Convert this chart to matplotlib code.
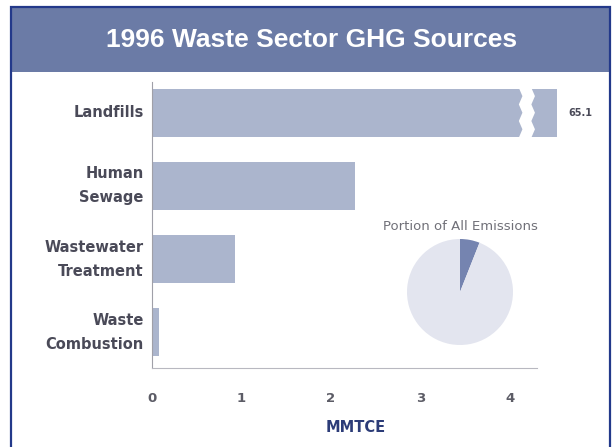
import matplotlib.pyplot as plt
from matplotlib.patches import Rectangle, Polygon

# Daten
Kategorien = ['Landfills', 'Human\nSewage', 'Wastewater\nTreatment', 'Waste\nCombustion']
Werte = [65.1, 2.27, 0.93, 0.08]
Anteil_Abfall = [6, 94]          # Anteil an allen Emissionen (%)
X_Ticks = [0, 1, 2, 3, 4]

BRUCH_BEI = 4.1      # wo der Landfills-Balken unterbrochen wird
STUMMEL = 0.43       # Rest des Balkens hinter dem Bruch

BALKEN_FARBE = '#abb5cd'
TEXT_GRAU = '#4a4a58'

fig = plt.figure(figsize=(6.13, 4.47), dpi=100)
W, H = 613, 447

def fx(px):
    return px / W

def fy(py):
    return 1 - py / H

# Rahmen und Titelband
fig.patches.append(Rectangle((fx(11), fy(72)), fx(599), 65 / H, transform=fig.transFigure,
                             facecolor='#6b7ba6', edgecolor='none', zorder=0))
fig.patches.append(Rectangle((fx(11), fy(460)), fx(599), 453 / H, transform=fig.transFigure,
                             facecolor='none', edgecolor='#23398a', linewidth=1.6, zorder=5))
fig.text(fx(312), fy(40), '1996 Waste Sector GHG Sources', color='white', fontsize=19,
         fontweight='bold', family='Liberation Sans', ha='center', va='center')

# Balkendiagramm
ax = fig.add_axes([fx(152), fy(368), fx(560 - 152), (368 - 82) / H])
y = list(range(len(Kategorien)))
Laengen = [min(w, BRUCH_BEI + STUMMEL) for w in Werte]
ax.barh(y, Laengen, height=0.66, color=BALKEN_FARBE, zorder=2)

# Bruch im Landfills-Balken
zz = []
for k in range(7):
    zz.append((BRUCH_BEI + (0.04 if k % 2 else 0.0), -0.34 + k * 0.68 / 6))
zz2 = [(px + 0.14, py) for px, py in reversed(zz)]
ax.add_patch(Polygon(zz + zz2, closed=True, facecolor='white', edgecolor='none', zorder=3))
ax.text(BRUCH_BEI + STUMMEL + 0.12, 0, f'{Werte[0]:.1f}', fontsize=7, fontweight='bold',
        color=TEXT_GRAU, va='center', ha='left')

ax.set_xlim(0, 4.56)
ax.set_ylim(3.49, -0.42)
ax.set_yticks(y)
ax.set_yticklabels(Kategorien, fontsize=10.5, fontweight='bold', color=TEXT_GRAU,
                   linespacing=1.75)
for lab in ax.get_yticklabels():
    lab.set_va('center')
ax.set_xticks(X_Ticks)
ax.set_xticklabels([str(t) for t in X_Ticks], fontsize=9.5, fontweight='bold', color='#5c5c66')
ax.tick_params(axis='both', length=0)
ax.tick_params(axis='x', pad=17)
ax.tick_params(axis='y', pad=6)
for s in ['top', 'right']:
    ax.spines[s].set_visible(False)
ax.spines['left'].set_color('#a0a0a8')
ax.spines['bottom'].set_color('#b8b8c0')
ax.spines['bottom'].set_bounds(0, 4.3)
ax.set_xlabel('MMTCE', fontsize=10.5, fontweight='bold', color='#2c3c78', labelpad=11)
ax.patch.set_alpha(0)

# Kreisdiagramm
fig.text(fx(460), fy(226), 'Portion of All Emissions', fontsize=9.5, color='#707078',
         ha='center', va='center')
ax_pie = fig.add_axes([fx(407), fy(345), 106 / W, 106 / H])
ax_pie.pie(Anteil_Abfall, colors=['#7584b0', '#e3e5ef'], startangle=90, counterclock=False)
ax_pie.set_xlim(-1, 1)
ax_pie.set_ylim(-1, 1)
ax_pie.set_aspect('equal')

plt.savefig('out.png', dpi=100)
